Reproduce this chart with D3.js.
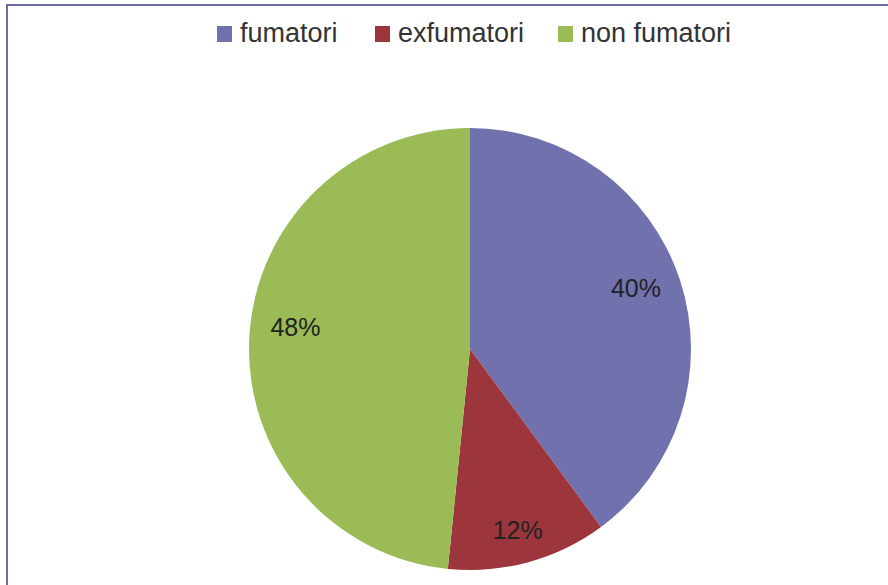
<!DOCTYPE html>
<html>
<head>
<meta charset="utf-8">
<script src="https://cdn.jsdelivr.net/npm/d3@7"></script>
<style>
  html, body { margin: 0; padding: 0; background: #ffffff; }
  svg { display: block; }
</style>
</head>
<body>
<svg id="chart" width="888" height="585"></svg>
<script>
// ---- data ----
const categories = ["fumatori", "exfumatori", "non fumatori"];
const values = [39.9, 11.7, 48.4];
const colors = ["#7071ad", "#9d363c", "#9abb55"];

// ---- layout ----
const W = 888, H = 585;
const cx = 470, cy = 349, R = 221;
const labelRadius = 0.8 * R;
const labelNudge = [[-2, -6], [1, 10], [2, -13]];

const svg = d3.select("#chart");

// border frame
svg.append("rect")
  .attr("x", 7).attr("y", 5)
  .attr("width", W + 10).attr("height", H + 10)
  .attr("fill", "none")
  .attr("stroke", "#6b6ca9")
  .attr("stroke-width", 2);

const total = d3.sum(values);
const pie = d3.pie().sort(null).value(d => d)(values);
const arc = d3.arc().innerRadius(0).outerRadius(R);
const labelArc = d3.arc().innerRadius(labelRadius).outerRadius(labelRadius);

const g = svg.append("g").attr("transform", `translate(${cx},${cy})`);

g.selectAll("path.slice")
  .data(pie)
  .join("path")
  .attr("class", "slice")
  .attr("d", arc)
  .attr("fill", (d, i) => colors[i]);

g.selectAll("text.lbl")
  .data(pie)
  .join("text")
  .attr("class", "lbl")
  .attr("x", (d, i) => labelArc.centroid(d)[0] + labelNudge[i][0])
  .attr("y", (d, i) => labelArc.centroid(d)[1] + labelNudge[i][1])
  .attr("text-anchor", "middle")
  .attr("dominant-baseline", "central")
  .attr("font-family", "'Liberation Sans', Arial, sans-serif")
  .attr("font-size", 25)
  .attr("fill", "#222")
  .text(d => Math.round(d.value / total * 100) + "%");

// legend
const legendX = [217, 375, 558];
const leg = svg.append("g");
categories.forEach((c, i) => {
  leg.append("rect")
    .attr("x", legendX[i]).attr("y", 26)
    .attr("width", 15).attr("height", 16)
    .attr("fill", colors[i]);
  leg.append("text")
    .attr("x", legendX[i] + 23).attr("y", 42)
    .attr("font-family", "'Liberation Sans', Arial, sans-serif")
    .attr("font-size", 27)
    .attr("fill", "#333")
    .text(c);
});
</script>
</body>
</html>
